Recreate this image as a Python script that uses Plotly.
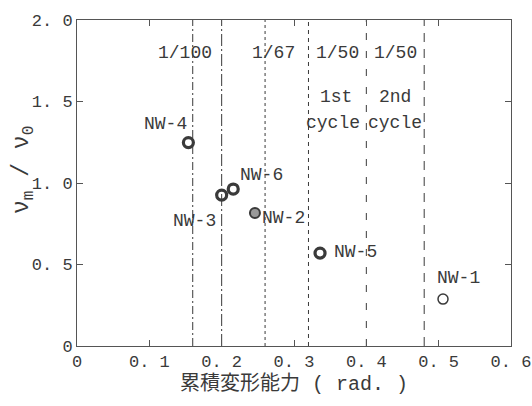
import plotly.graph_objects as go

# ---- data ----
specimens = ["NW-1", "NW-2", "NW-3", "NW-4", "NW-5", "NW-6"]
cum_deform = [0.506, 0.246, 0.200, 0.154, 0.336, 0.216]
ratio = [0.288, 0.816, 0.926, 1.248, 0.570, 0.963]

drift_lines = [0.16, 0.20, 0.26, 0.32, 0.40, 0.48]
drift_labels = ["1/100", "1/67", "1/50", "1/50"]
drift_label_x = [0.149, 0.271, 0.360, 0.441]
cycle_labels = ["1st", "cycle", "2nd", "cycle"]
cycle_label_x = [0.358, 0.354, 0.440, 0.439]
cycle_label_y = [1.53, 1.37, 1.53, 1.37]

x_ticks = [0, 0.1, 0.2, 0.3, 0.4, 0.5, 0.6]
x_ticktext = ["0", "0. 1", "0. 2", "0. 3", "0. 4", "0. 5", "0. 6"]
y_ticks = [0, 0.5, 1.0, 1.5, 2.0]
y_ticktext = ["0", "0. 5", "1. 0", "1. 5", "2. 0"]
y_title = "ν<sub>m</sub> / ν<sub>0</sub>"
x_title = "累積変形能力 ( rad. )"

# ---- styles ----
INK = "#3a3a3a"
FONT = "Liberation Mono, Noto Sans CJK JP, monospace"
line_dashes = ["8px,3px,2px,3px", "12px,3px,2px,3px", "3px,3px", "4px,4px", "7px,11px", "9px,7px"]
marker_styles = {
    "NW-1": dict(symbol="circle-open", size=10, color=INK, line=dict(color=INK, width=1.5)),
    "NW-2": dict(symbol="circle", size=10, color="#9a9a9a", line=dict(color=INK, width=2)),
}
default_marker = dict(symbol="circle-open", size=10, color=INK, line=dict(color=INK, width=3.2))
label_shift = {
    "NW-1": (15, 21), "NW-2": (29, -5), "NW-3": (-27, -26),
    "NW-4": (-23, 19), "NW-5": (35, 1), "NW-6": (28, 14),
}

fig = go.Figure()

for xv, dash in zip(drift_lines, line_dashes):
    fig.add_trace(go.Scatter(x=[xv, xv], y=[y_ticks[0], y_ticks[-1]], mode="lines",
                             line=dict(color=INK, width=1, dash=dash),
                             hoverinfo="skip", showlegend=False))

for name, xv, yv in zip(specimens, cum_deform, ratio):
    m = marker_styles.get(name, default_marker)
    fig.add_trace(go.Scatter(x=[xv], y=[yv], mode="markers", marker=m,
                             name=name, showlegend=False))
    dx, dy = label_shift[name]
    fig.add_annotation(x=xv, y=yv, text=name, showarrow=False, xshift=dx, yshift=dy,
                       font=dict(family=FONT, size=18, color=INK))

for t, xv in zip(drift_labels, drift_label_x):
    fig.add_annotation(x=xv, y=1.80, text=t, showarrow=False,
                       font=dict(family=FONT, size=18, color=INK))
for t, xv, yv in zip(cycle_labels, cycle_label_x, cycle_label_y):
    fig.add_annotation(x=xv, y=yv, text=t, showarrow=False,
                       font=dict(family=FONT, size=18, color=INK))

# y-axis title as rotated annotation
fig.add_annotation(xref="paper", yref="paper", x=-0.16, y=0.54, text=y_title,
                   textangle=-90, showarrow=False,
                   font=dict(family=FONT, size=23, color=INK))

axis_common = dict(showgrid=False, zeroline=False, showline=True, linecolor="#555",
                   linewidth=1, mirror="ticks", ticks="inside", ticklen=6,
                   tickcolor="#555", automargin=False,
                   tickfont=dict(family=FONT, size=17, color=INK))

fig.update_xaxes(range=[0, 0.6], tickvals=x_ticks, ticktext=x_ticktext,
                 title=dict(text=x_title, standoff=4,
                            font=dict(family=FONT, size=20, color=INK)),
                 **axis_common)
fig.update_yaxes(range=[0, 2.0], tickvals=y_ticks, ticktext=y_ticktext, **axis_common)

fig.update_layout(width=532, height=406, margin=dict(l=77, r=21, t=20, b=60),
                  plot_bgcolor="white", paper_bgcolor="white",
                  font=dict(family=FONT, color=INK))

fig.write_html("out.html")
